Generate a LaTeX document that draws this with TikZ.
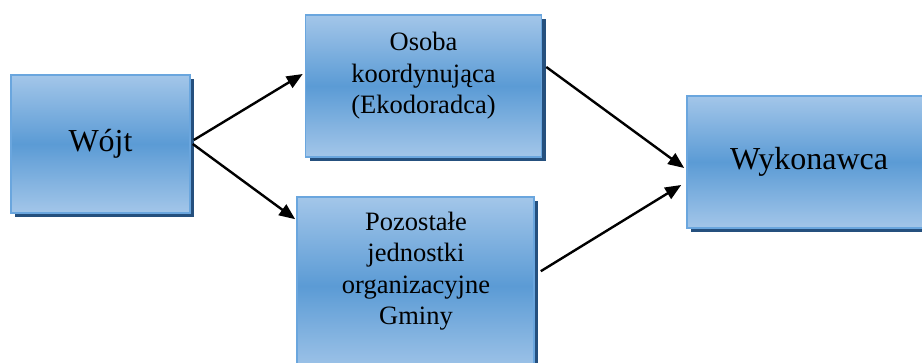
\documentclass[tikz,border=0pt]{standalone}
\usepackage{fontspec}
\setmainfont{Liberation Serif}
\usetikzlibrary{arrows.meta,shadows}
\definecolor{boxlight}{HTML}{A3C6E9}
\definecolor{boxmid}{HTML}{5B9BD5}
\definecolor{boxborder}{HTML}{6AA6DE}
\definecolor{boxshadow}{HTML}{25507E}
\tikzset{
  box/.style={rectangle, inner sep=0pt, draw=boxborder, line width=1.6pt,
    top color=boxlight, bottom color=boxlight, middle color=boxmid,
    drop shadow={shadow xshift=4pt, shadow yshift=-4pt, fill=boxshadow, opacity=1}},
  smalltext/.style={align=center, inner sep=0pt, font=\fontsize{26.5}{31.5}\selectfont},
  bigtext/.style={font=\fontsize{32}{36}\selectfont},
  arr/.style={line width=2.4pt, -{Triangle[length=16pt,width=13pt]}}
}
\begin{document}
\begin{tikzpicture}[x=1pt,y=-1pt]
\clip (0,0) rectangle (922,362);
\fill[white] (0,0) rectangle (922,362);
% boxes
\node[box, bigtext, minimum width=179pt, minimum height=138pt] (wojt) at (100.5,144) {Wójt};
\node[box, minimum width=236pt, minimum height=142pt] (osoba) at (423.5,86) {};
\node[box, minimum width=237pt, minimum height=178pt] (poz) at (415.5,286) {};
\node[box, bigtext, minimum width=244pt, minimum height=132pt] (wyk) at (809,162) {Wykonawca};
% texts
\node[smalltext] (osobatxt) at (423.5,76) {Osoba\\koordynująca\\(Ekodoradca)};
\node[smalltext] (poztxt) at (416,271) {Pozostałe\\jednostki\\organizacyjne\\Gminy};
% connectors
\draw[arr] ([xshift=3pt,yshift=4pt]wojt.east) -- ([xshift=-2pt,yshift=12pt]osoba.west);
\draw[arr] ([xshift=2pt]wojt.east) -- ([xshift=-1pt,yshift=-23pt]poz.north west);
\draw[arr] ([xshift=4pt,yshift=19pt]osoba.east) -- ([xshift=-2pt,yshift=-6pt]wyk.west);
\draw[arr] ([xshift=6pt,yshift=-75pt]poz.north east) -- ([xshift=-5pt,yshift=-23pt]wyk.west);
\end{tikzpicture}
\end{document}
